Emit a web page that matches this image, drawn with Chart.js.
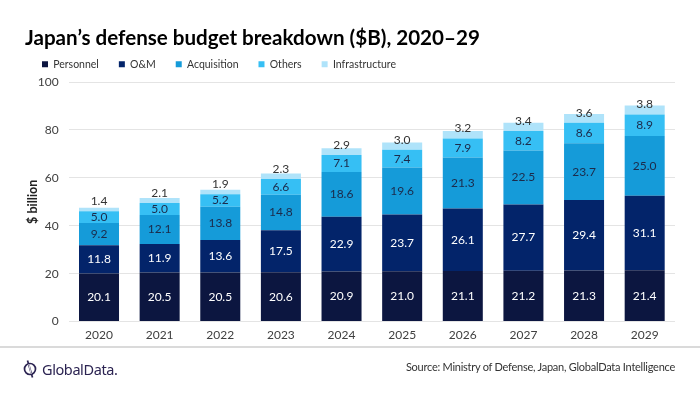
<!DOCTYPE html>
<html><head><meta charset="utf-8">
<script src="https://cdn.jsdelivr.net/npm/chart.js@4.4.1/dist/chart.umd.min.js"></script>
<style>
body{margin:0;background:#fff;}
#wrap{position:relative;width:700px;height:400px;overflow:hidden;background:#fff;}
#title{position:absolute;left:25px;top:25px;font-family:Lato,'Open Sans',sans-serif;font-weight:bold;font-size:20.6px;color:#000;white-space:nowrap;}
canvas{position:absolute;left:0;top:0;}
#sep{position:absolute;left:0;top:346px;width:700px;height:2px;background:#dadada;}
#logo{position:absolute;left:23px;top:359px;display:flex;align-items:center;}
#logo span{font-family:'Noto Sans',Lato,sans-serif;font-size:14.5px;color:#2c2452;letter-spacing:-0.4px;margin-left:5px;}
#source{position:absolute;right:25px;top:360px;font-family:Lato,sans-serif;font-size:11px;letter-spacing:-0.25px;color:#333;white-space:nowrap;}
</style></head>
<body><div id="wrap">
<canvas id="c" width="700" height="400"></canvas>
<div id="title">Japan’s defense budget breakdown ($B), 2020–29</div>
<div id="sep"></div>
<div id="logo"><svg width="14" height="20" viewBox="0 0 14 20"><circle cx="7" cy="10" r="5.5" fill="none" stroke="#2c2452" stroke-width="1.7"/><line x1="4.5" y1="1.5" x2="9.5" y2="18.5" stroke="#2c2452" stroke-width="1.7"/><line x1="5.8" y1="5" x2="8.2" y2="15" stroke="#fff" stroke-width="0.9"/></svg><span>GlobalData.</span></div>
<div id="source">Source: Ministry of Defense, Japan, GlobalData Intelligence</div>
</div>
<script>
const years = ['2020','2021','2022','2023','2024','2025','2026','2027','2028','2029'];
const personnel = [20.1,20.5,20.5,20.6,20.9,21.0,21.1,21.2,21.3,21.4];
const om = [11.8,11.9,13.6,17.5,22.9,23.7,26.1,27.7,29.4,31.1];
const acquisition = [9.2,12.1,13.8,14.8,18.6,19.6,21.3,22.5,23.7,25.0];
const others = [5.0,5.0,5.2,6.6,7.1,7.4,7.9,8.2,8.6,8.9];
const infrastructure = [1.4,2.1,1.9,2.3,2.9,3.0,3.2,3.4,3.6,3.8];
const seriesNames = ['Personnel','O&M','Acquisition','Others','Infrastructure'];
const yTicks = [0,20,40,60,80,100];

const colors = ['#0c1640','#03246a','#159bd9','#36bff4','#afe3fa'];
const labelColors = ['#ffffff','#ffffff','#1c2a4a','#1c2a4a','#333333'];

const segLabels = {
  id:'segLabels',
  afterDatasetsDraw(chart){
    const ctx = chart.ctx;
    ctx.save();
    ctx.font = '12px Lato, sans-serif';
    ctx.textAlign = 'center';
    ctx.textBaseline = 'middle';
    chart.data.datasets.forEach((ds,i)=>{
      const meta = chart.getDatasetMeta(i);
      meta.data.forEach((el,j)=>{
        const v = ds.data[j];
        const y = (i===4) ? el.base - 10 : (el.y + el.base)/2;
        ctx.fillStyle = labelColors[i];
        ctx.fillText(v.toFixed(1), el.x, y);
      });
    });
    ctx.restore();
  }
};
const legendFix = {
  id:'legendFix',
  beforeLayout(chart){
    const lg = chart.legend;
    if(lg && !lg._patched){
      const f = lg.fit;
      lg.fit = function(){ f.call(this); this.height = 43; };
      lg._patched = true;
    }
  }
};

const data = [personnel, om, acquisition, others, infrastructure];
new Chart(document.getElementById('c'), {
  type:'bar',
  data:{
    labels: years,
    datasets: data.map((d,i)=>({label:seriesNames[i], data:d, backgroundColor:colors[i], borderWidth:0, barPercentage:0.66, categoryPercentage:1}))
  },
  options:{
    responsive:false, animation:false,
    layout:{padding:{left:22,right:25,top:39,bottom:52}},
    plugins:{
      legend:{position:'top',align:'start',labels:{boxWidth:6,boxHeight:6,padding:20,color:'#333',font:{family:'Lato, sans-serif',size:10.5}}},
      tooltip:{enabled:false}
    },
    scales:{
      x:{stacked:true,grid:{display:false,drawTicks:false},border:{display:false},ticks:{color:'#404040',font:{family:'Lato, sans-serif',size:12},padding:6}},
      y:{stacked:true,min:0,max:100,
        afterBuildTicks(s){ s.ticks = yTicks.map(v=>({value:v})); },
        afterFit(s){ s.width = 46.7; },
        grid:{color:'#e4e4e4',drawTicks:false},border:{display:false},
        ticks:{color:'#404040',font:{family:'Lato, sans-serif',size:12},padding:10},
        title:{display:true,text:'$ billion',color:'#222',font:{family:'Lato, sans-serif',size:12.5,weight:'bold'},padding:{top:3,bottom:0}}
      }
    }
  },
  plugins:[segLabels, legendFix]
});
</script>
</body></html>
